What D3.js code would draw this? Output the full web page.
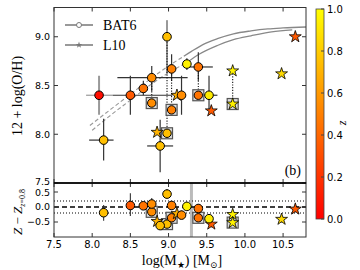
<!DOCTYPE html>
<html>
<head>
<meta charset="utf-8">
<script src="https://cdn.jsdelivr.net/npm/d3@7"></script>
<style>
  body { margin: 0; background: #fff; }
  svg text { fill: #000; }
</style>
</head>
<body>
<div id="chart"></div>
<script>
// BAT6 hosts: [logM, 12+log(O/H), Z - Z(z=0.8), redshift]
var bat6 = [
    [8.09, 8.40, null, 0.05],
    [8.50, 8.40, 0.05, 0.35],
    [8.67, 8.47, 0.04, 0.45],
    [8.78, 8.58, 0.10, 0.55],
    [8.98, 9.00, 0.43, 0.75],
    [9.04, 8.67, 0.05, 0.50],
    [9.24, 8.72, 0.02, 0.95],
    [9.39, 8.69, -0.05, 0.45],
    [9.17, 8.40, -0.27, 0.55],
    [9.53, 8.40, -0.39, 0.92],
    [8.89, 7.88, -0.62, 0.75],
    [8.15, 7.94, -0.19, 0.75]
];
// error bars of BAT6 points: [xlo, xhi, ylo, yhi, colour]
var bat6Err = [
    [7.92, 8.27, 8.20, 8.60, "#999"],
    [8.27, 9.05, 8.20, 8.60, "#333"],
    [null, null, 8.40, 8.55, "#333"],
    [8.33, 9.25, 8.44, 8.70, "#333"],
    [null, null, 8.62, 9.17, "#999"],
    [null, null, 8.55, 8.82, "#333"],
    [null, null, 8.66, 8.78, "#333"],
    [9.20, 9.58, 8.55, 8.84, "#333"],
    [null, null, 8.20, 8.60, "#333"],
    [9.42, 9.64, 8.26, 8.60, "#333"],
    [8.72, 9.06, 7.61, 8.15, "#333"],
    [7.96, 8.28, 7.73, 8.16, "#333"]
];
// lower panel error bars (ΔZ lo, hi) by BAT6 index
var dzErr = [null, [-0.30, 0.46], null, [-0.05, 0.30], [0.30, 0.60], [-0.10, 0.20], null, [-0.15, 0.10], [-0.40, -0.12], [-0.50, -0.28], null, [-0.46, 0.07]];

// alternative metallicities (squares): [logM, 12+log(O/H), ΔZ, redshift, linked OH]
var squares = [
    [8.78, 8.32, -0.16, 0.55, 8.58],
    [8.98, 8.01, -0.57, 0.75, 9.00],
    [9.04, 8.25, -0.36, 0.50, 8.67],
    [9.39, 8.40, -0.36, 0.45, 8.69],
    [9.84, 8.31, -0.52, 0.95, 8.65]
];

// L10 hosts: [logM, 12+log(O/H), ΔZ, redshift]
var l10 = [
    [9.11, 8.40, -0.22, 0.70],
    [8.85, 8.02, -0.48, 0.70],
    [9.56, 8.24, -0.57, 0.35],
    [9.84, 8.65, -0.25, 0.95],
    [9.84, 8.31, -0.52, 0.95],
    [10.48, 8.62, -0.41, 0.85],
    [10.66, 9.00, -0.07, 0.35]
];

// mass-metallicity relations
var upperDashed = [[7.97, 8.09], [8.25, 8.26], [8.5, 8.41], [8.75, 8.56], [9.0, 8.70], [9.2, 8.80]];
var upperSolid = [[9.2, 8.80], [9.3, 8.85], [9.45, 8.92], [9.64, 8.98], [9.85, 9.03], [10.08, 9.06], [10.3, 9.08], [10.5, 9.09], [10.8, 9.10]];
var lowerDashed = [[8.0, 8.04], [8.25, 8.20], [8.5, 8.35], [8.75, 8.50], [9.0, 8.63], [9.25, 8.74]];
var lowerSolid = [[9.25, 8.74], [9.4, 8.82], [9.64, 8.91], [9.85, 8.97], [10.08, 9.01], [10.35, 9.05], [10.62, 9.07]];

var xTicks = [7.5, 8.0, 8.5, 9.0, 9.5, 10.0, 10.5];
var yTicksTop = [7.5, 8.0, 8.5, 9.0];
var yTicksBottom = [-0.5, 0.0, 0.5];
var cbTicks = [0.0, 0.2, 0.4, 0.6, 0.8, 1.0];

var svgWidth = 360, svgHeight = 270;
var left = 54, right = 306;
var topY = 7.5, midY = 183, bottomY = 237;

var svg = d3.select("#chart").append("svg")
    .attr("width", svgWidth)
    .attr("height", svgHeight)
    .style("font-family", "DejaVu Sans, sans-serif");

var x = d3.scaleLinear().domain([7.5, 10.8]).range([left, right]);
var yTop = d3.scaleLinear().domain([7.5, 9.3]).range([midY, topY]);
var yBot = d3.scaleLinear().domain([-1.0, 0.8]).range([bottomY, midY]);
var zColor = d3.interpolateRgb("#ff0000", "#ffff00");

svg.append("defs").append("clipPath").attr("id", "clipTop")
    .append("rect").attr("x", left).attr("y", topY).attr("width", right - left).attr("height", midY - topY);

var serif = "Liberation Serif, DejaVu Serif, serif";

// ---- top panel ----
var topG = svg.append("g");
var curves = topG.append("g").attr("clip-path", "url(#clipTop)");
var line = d3.line().x(d => x(d[0])).y(d => yTop(d[1])).curve(d3.curveMonotoneX);
[upperSolid, lowerSolid].forEach(function(c) {
    curves.append("path").attr("d", line(c)).attr("fill", "none")
        .attr("stroke", "#888").attr("stroke-width", 1.3);
});
[upperDashed, lowerDashed].forEach(function(c) {
    curves.append("path").attr("d", line(c)).attr("fill", "none")
        .attr("stroke", "#999").attr("stroke-width", 1.1).attr("stroke-dasharray", "4,2.5");
});

// error bars
bat6Err.forEach(function(e, i) {
    var p = bat6[i];
    if (e[0] !== null) {
        topG.append("line").attr("x1", x(e[0])).attr("x2", x(e[1]))
            .attr("y1", yTop(p[1])).attr("y2", yTop(p[1]))
            .attr("stroke", e[4]).attr("stroke-width", 1.2);
    }
    topG.append("line").attr("x1", x(p[0])).attr("x2", x(p[0]))
        .attr("y1", yTop(e[2])).attr("y2", yTop(e[3]))
        .attr("stroke", e[4]).attr("stroke-width", e[4] == "#999" ? 2 : 1.2);
});

// dotted links from circle/star to square
squares.forEach(function(s) {
    topG.append("line").attr("x1", x(s[0])).attr("x2", x(s[0]))
        .attr("y1", yTop(s[4])).attr("y2", yTop(s[1]))
        .attr("stroke", "#111").attr("stroke-width", 1.1).attr("stroke-dasharray", "1.2,1.5");
});

function drawSquares(g, yScale, idx) {
    g.selectAll(null).data(squares).enter().append("rect")
        .attr("x", d => x(d[0]) - 5.5)
        .attr("y", d => yScale(d[idx]) - 5.5)
        .attr("width", 11).attr("height", 11)
        .attr("fill", "#ddd").attr("stroke", "#555").attr("stroke-width", 1.2);
    g.selectAll(null).data(squares.filter(d => d[0] < 9.8)).enter().append("circle")
        .attr("cx", d => x(d[0])).attr("cy", d => yScale(d[idx]))
        .attr("r", 4.2).attr("fill", d => zColor(d[3]))
        .attr("stroke", "#000").attr("stroke-width", 1);
}

var star = d3.symbol().type(d3.symbolStar).size(44);

function drawStars(g, yScale, idx) {
    g.selectAll(null).data(l10).enter().append("path")
        .attr("d", star)
        .attr("transform", d => `translate(${x(d[0])},${yScale(d[idx])})`)
        .attr("fill", d => zColor(d[3]))
        .attr("stroke", "#000").attr("stroke-width", 0.8);
}

function drawCircles(g, data, yScale, idx) {
    g.selectAll(null).data(data).enter().append("circle")
        .attr("cx", d => x(d[0])).attr("cy", d => yScale(d[idx]))
        .attr("r", 4.3).attr("fill", d => zColor(d[3]))
        .attr("stroke", "#000").attr("stroke-width", 1);
}

drawSquares(topG, yTop, 1);
drawStars(topG, yTop, 1);
drawCircles(topG, bat6, yTop, 1);

// ---- bottom panel ----
var botG = svg.append("g");
botG.append("line").attr("x1", x(9.3)).attr("x2", x(9.3)).attr("y1", midY).attr("y2", bottomY)
    .attr("stroke", "#bbb").attr("stroke-width", 3);
botG.append("line").attr("x1", left).attr("x2", right).attr("y1", yBot(0)).attr("y2", yBot(0))
    .attr("stroke", "#000").attr("stroke-width", 1.4).attr("stroke-dasharray", "5,3");
[-0.2, 0.2].forEach(function(v) {
    botG.append("line").attr("x1", left).attr("x2", right).attr("y1", yBot(v)).attr("y2", yBot(v))
        .attr("stroke", "#000").attr("stroke-width", 1).attr("stroke-dasharray", "1,2");
});
dzErr.forEach(function(e, i) {
    if (!e) return;
    botG.append("line").attr("x1", x(bat6[i][0])).attr("x2", x(bat6[i][0]))
        .attr("y1", yBot(e[0])).attr("y2", yBot(e[1]))
        .attr("stroke", "#333").attr("stroke-width", 1.1);
});
l10.forEach(function(d) {
    botG.append("line").attr("x1", x(d[0])).attr("x2", x(d[0]))
        .attr("y1", yBot(d[2] - 0.12)).attr("y2", yBot(d[2] + 0.12))
        .attr("stroke", "#777").attr("stroke-width", 1);
});
drawSquares(botG, yBot, 2);
drawStars(botG, yBot, 2);
drawCircles(botG, bat6.filter(d => d[2] !== null), yBot, 2);

// ---- frames and ticks ----
function frame(y0, y1, yScale, yTicks, shift) {
    svg.append("rect").attr("x", left).attr("y", y0).attr("width", right - left).attr("height", y1 - y0)
        .attr("fill", "none").attr("stroke", "#333").attr("stroke-width", 1);
    xTicks.forEach(function(t) {
        svg.append("line").attr("x1", x(t)).attr("x2", x(t)).attr("y1", y0).attr("y2", y0 + 4).attr("stroke", "#333");
        svg.append("line").attr("x1", x(t)).attr("x2", x(t)).attr("y1", y1).attr("y2", y1 - 4).attr("stroke", "#333");
    });
    yTicks.forEach(function(t) {
        svg.append("line").attr("x1", left).attr("x2", left + 4).attr("y1", yScale(t)).attr("y2", yScale(t)).attr("stroke", "#333");
        svg.append("line").attr("x1", right).attr("x2", right - 4).attr("y1", yScale(t)).attr("y2", yScale(t)).attr("stroke", "#333");
        svg.append("text").attr("x", left - 4).attr("y", yScale(t) + (shift[t] || 0)).attr("dy", "0.35em")
            .attr("text-anchor", "end").attr("font-size", 9.5)
            .text(d3.format(".1f")(t).replace("-", "\u2212"));
    });
}
frame(topY, midY, yTop, yTicksTop, {7.5: -1.5});
frame(midY, bottomY, yBot, yTicksBottom, {0.5: 1});
svg.append("line").attr("x1", left).attr("x2", right).attr("y1", midY).attr("y2", midY)
    .attr("stroke", "#000").attr("stroke-width", 1.5);

xTicks.forEach(function(t) {
    svg.append("text").attr("x", x(t)).attr("y", bottomY + 10.5)
        .attr("text-anchor", "middle").attr("font-size", 10).text(d3.format(".1f")(t));
});

// axis labels
var xl = svg.append("text").attr("x", 182).attr("y", 265).attr("text-anchor", "middle")
    .attr("font-family", serif).attr("font-size", 14);
xl.append("tspan").text("log(M");
xl.append("tspan").attr("font-size", 9).attr("dy", 3).text("\u2605");
xl.append("tspan").attr("dy", -3).text(") [M");
xl.append("tspan").attr("font-size", 9).attr("dy", 3).text("\u2299");
xl.append("tspan").attr("dy", -3).text("]");

svg.append("text").attr("transform", "translate(22,96) rotate(-90)").attr("text-anchor", "middle")
    .attr("font-family", serif).attr("font-size", 14).text("12 + log(O/H)");
var zl = svg.append("text").attr("transform", "translate(22,212) rotate(-90)").attr("text-anchor", "middle")
    .attr("font-family", serif).attr("font-size", 13);
zl.append("tspan").attr("font-style", "italic").text("Z");
zl.append("tspan").text(" \u2212 ");
zl.append("tspan").attr("font-style", "italic").text("Z");
zl.append("tspan").attr("font-size", 8).attr("dy", 3).attr("font-style", "italic").text("z");
zl.append("tspan").attr("font-size", 8).text("=0.8");

svg.append("text").attr("x", 301).attr("y", 175).attr("text-anchor", "end")
    .attr("font-family", serif).attr("font-size", 14).text("(b)");

// legend
var legend = [["BAT6", "circle"], ["L10", "star"]];
legend.forEach(function(l, i) {
    var ly = 25 + i * 20;
    svg.append("line").attr("x1", 65).attr("x2", 93).attr("y1", ly).attr("y2", ly)
        .attr("stroke", "#777").attr("stroke-width", 1.5);
    if (l[1] == "circle") {
        svg.append("circle").attr("cx", 79).attr("cy", ly).attr("r", 2.5)
            .attr("fill", "#fff").attr("stroke", "#777");
    } else {
        svg.append("path").attr("d", d3.symbol().type(d3.symbolStar).size(14))
            .attr("transform", `translate(79,${ly})`).attr("fill", "#777");
    }
    svg.append("text").attr("x", 103).attr("y", ly + 5).attr("font-family", serif)
        .attr("font-size", 14).text(l[0]);
});

// colorbar
var cbX = 316, cbW = 8, cbTop = 9, cbBot = 219;
var cb = d3.scaleLinear().domain([0, 1]).range([cbBot, cbTop]);
var grad = svg.select("defs").append("linearGradient").attr("id", "cbGrad")
    .attr("x1", 0).attr("x2", 0).attr("y1", 1).attr("y2", 0);
grad.append("stop").attr("offset", 0).attr("stop-color", zColor(0));
grad.append("stop").attr("offset", 1).attr("stop-color", zColor(1));
svg.append("rect").attr("x", cbX).attr("y", cbTop).attr("width", cbW).attr("height", cbBot - cbTop)
    .attr("fill", "url(#cbGrad)").attr("stroke", "#444").attr("stroke-width", 0.8);
cbTicks.forEach(function(t) {
    svg.append("line").attr("x1", cbX + cbW - 3).attr("x2", cbX + cbW).attr("y1", cb(t)).attr("y2", cb(t))
        .attr("stroke", "#444");
    svg.append("text").attr("x", cbX + cbW + 3).attr("y", cb(t)).attr("dy", "0.35em")
        .attr("font-size", 10).text(d3.format(".1f")(t));
});
svg.append("text").attr("transform", "translate(346,123) rotate(-90)").attr("text-anchor", "middle")
    .attr("font-family", serif).attr("font-style", "italic").attr("font-size", 12).text("z");
</script>
</body>
</html>
